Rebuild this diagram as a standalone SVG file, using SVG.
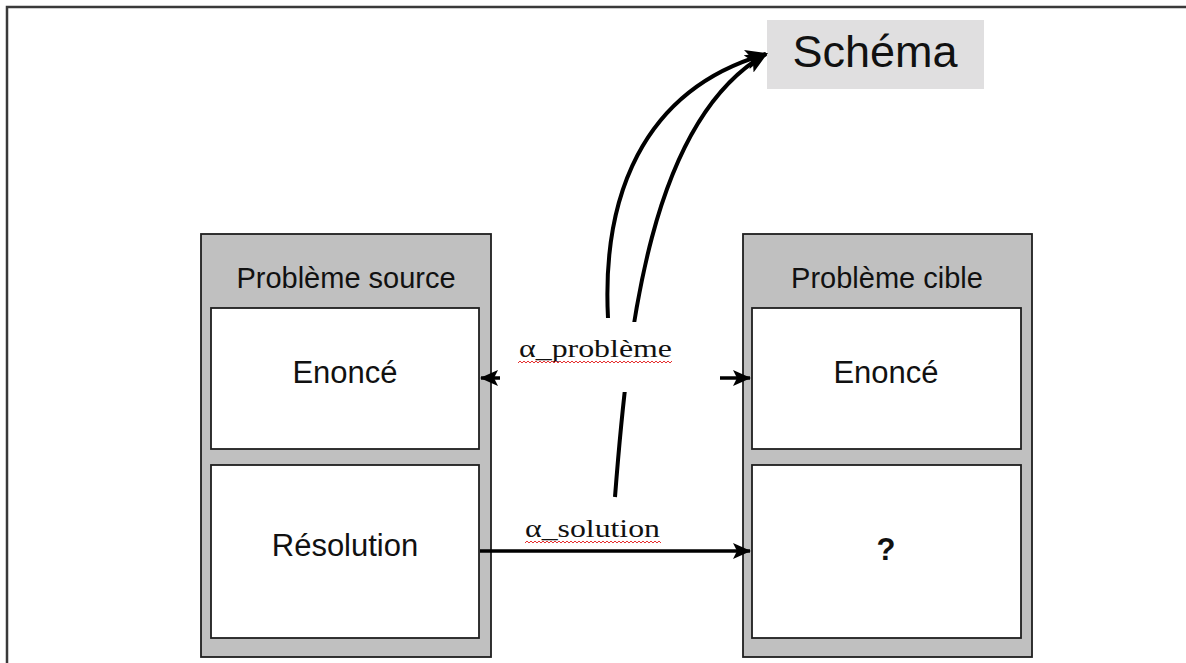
<svg xmlns="http://www.w3.org/2000/svg" width="1186" height="663" viewBox="0 0 1186 663">
  <defs>
    <marker id="head" viewBox="0 0 18 18" refX="17" refY="9" markerWidth="18" markerHeight="18" markerUnits="userSpaceOnUse" orient="auto-start-reverse">
      <path d="M0,1 L18,9 L0,17 L4,9 Z" fill="#000"/>
    </marker>
    <marker id="headBig" viewBox="0 0 22 22" refX="20" refY="11" markerWidth="22" markerHeight="22" markerUnits="userSpaceOnUse" orient="auto">
      <path d="M0,1 L22,11 L0,21 L5,11 Z" fill="#000"/>
    </marker>
    <style>
      .frame { fill: #fff; stroke: #3a3a3a; stroke-width: 2.5; }
      .outer { fill: #c0c0c0; stroke: #1e1e1e; stroke-width: 1.8; }
      .inner { fill: #fff; stroke: #1e1e1e; stroke-width: 1.8; }
      .sans { font-family: "Liberation Sans", Arial, sans-serif; fill: #111; text-anchor: middle; }
      .hdr { font-size: 29px; }
      .body { font-size: 31px; }
      .serif { font-family: "Liberation Serif", "Times New Roman", serif; fill: #111; font-size: 25px; }
      .conn { fill: none; stroke: #000; }
      .squiggle { fill: none; stroke: #e53030; stroke-width: 1; }
    </style>
  </defs>

  <rect width="1186" height="663" fill="#fff"/>
  <rect class="frame" x="7" y="7" width="1200" height="700"/>

  <!-- source problem -->
  <g id="source">
    <rect class="outer" x="201" y="234" width="290" height="423"/>
    <text class="sans hdr" x="346" y="288">Problème source</text>
    <rect class="inner" x="211" y="308" width="268" height="141"/>
    <text class="sans body" x="345" y="383">Enoncé</text>
    <rect class="inner" x="211" y="465" width="268" height="173"/>
    <text class="sans body" x="345" y="556">Résolution</text>
  </g>

  <!-- target problem -->
  <g id="target">
    <rect class="outer" x="743" y="234" width="289" height="423"/>
    <text class="sans hdr" x="887" y="288">Problème cible</text>
    <rect class="inner" x="752" y="308" width="269" height="141"/>
    <text class="sans body" x="886" y="383">Enoncé</text>
    <rect class="inner" x="752" y="465" width="269" height="173"/>
    <text class="sans body" x="886" y="560" font-weight="bold">?</text>
  </g>

  <!-- schema -->
  <g id="schema">
    <rect x="767" y="20" width="217" height="69" fill="#e0dfe0"/>
    <text class="sans" x="875" y="67" font-size="45">Schéma</text>
  </g>

  <!-- connectors -->
  <g id="connectors">
    <path class="conn" d="M608 318 C602 200 640 90 766 54" stroke-width="4" marker-end="url(#headBig)"/>
    <path class="conn" d="M615 497 C628 330 650 120 766 54" stroke-width="4" marker-end="url(#headBig)"/>
    <line class="conn" x1="481" y1="378" x2="750" y2="378" stroke-width="3.5" marker-start="url(#head)" marker-end="url(#head)"/>
    <line class="conn" x1="480" y1="551" x2="750" y2="551" stroke-width="3.5" marker-end="url(#head)"/>
  </g>

  <!-- connector labels -->
  <g id="label-probleme">
    <rect x="500" y="322" width="220" height="70" fill="#fff"/>
    <text class="serif" x="519" y="357" textLength="153" lengthAdjust="spacingAndGlyphs">α_problème</text>
    <polyline class="squiggle" points="518,363 520,361 522,363 524,361 526,363 528,361 530,363 532,361 534,363 536,361 538,363 540,361 542,363 544,361 546,363 548,361 550,363 552,361 554,363 556,361 558,363 560,361 562,363 564,361 566,363 568,361 570,363 572,361 574,363 576,361 578,363 580,361 582,363 584,361 586,363 588,361 590,363 592,361 594,363 596,361 598,363 600,361 602,363 604,361 606,363 608,361 610,363 612,361 614,363 616,361 618,363 620,361 622,363 624,361 626,363 628,361 630,363 632,361 634,363 636,361 638,363 640,361 642,363 644,361 646,363 648,361 650,363 652,361 654,363 656,361 658,363 660,361 662,363 664,361 666,363 668,361 670,363 672,361"/>
  </g>
  <g id="label-solution">
    <text class="serif" x="525" y="537" textLength="135" lengthAdjust="spacingAndGlyphs">α_solution</text>
    <polyline class="squiggle" points="525,543 527,541 529,543 531,541 533,543 535,541 537,543 539,541 541,543 543,541 545,543 547,541 549,543 551,541 553,543 555,541 557,543 559,541 561,543 563,541 565,543 567,541 569,543 571,541 573,543 575,541 577,543 579,541 581,543 583,541 585,543 587,541 589,543 591,541 593,543 595,541 597,543 599,541 601,543 603,541 605,543 607,541 609,543 611,541 613,543 615,541 617,543 619,541 621,543 623,541 625,543 627,541 629,543 631,541 633,543 635,541 637,543 639,541 641,543 643,541 645,543 647,541 649,543 651,541 653,543 655,541 657,543 659,541 661,543"/>
  </g>
</svg>
